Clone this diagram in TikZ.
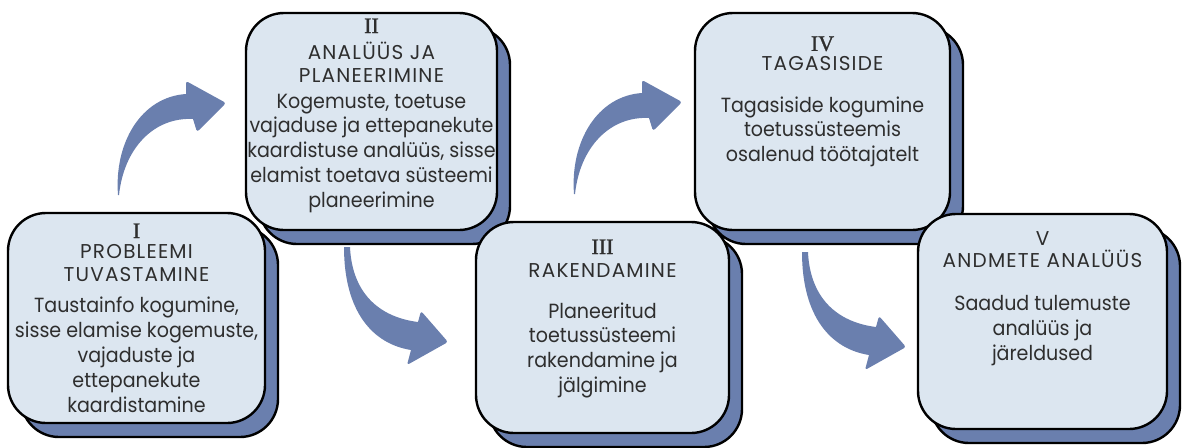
\documentclass[tikz,border=0pt]{standalone}
\usepackage{fontspec}
\setmainfont{Poppins}
\newfontfamily\bodyfont[FakeStretch=0.93]{Poppins}
\newfontfamily\titlefont[LetterSpace=6]{Poppins}
\newfontfamily\numfont[FakeBold=1.2]{Liberation Serif}
\usetikzlibrary{shadows,calc}
\definecolor{boxfill}{HTML}{DCE6F0}
\definecolor{shadowc}{HTML}{6A7FAE}
\definecolor{arrowc}{HTML}{6A7FAE}
\definecolor{txt}{HTML}{2E2E2E}
\tikzset{
  stagebox/.style={draw=black, line width=2.4pt, fill=boxfill, rounded corners=38pt,
    copy shadow={shadow xshift=13pt, shadow yshift=-14pt, fill=shadowc, draw=black, line width=2.4pt}},
  numtxt/.style={text=txt, font=\numfont\fontsize{22}{24}\selectfont, inner sep=0pt},
  titletxt/.style={text=txt, font=\titlefont\fontsize{20}{23.5}\selectfont, align=center, inner sep=0pt},
  bodytxt/.style={text=txt, font=\bodyfont\fontsize{20.5}{24.8}\selectfont, align=center, inner sep=0pt}
}
\begin{document}
\begin{tikzpicture}[x=1pt,y=-1pt]
\useasboundingbox (0,0) rectangle (1182,447);
% arrow tips
\coordinate (t1) at (226,103);
\coordinate (t2) at (448,342);
\coordinate (t3) at (682,102);
\coordinate (t4) at (906,347);
% up arrows
\foreach \t in {t1,t3}{
  \fill[arrowc] ($(\t)+(-108,92)$) .. controls ($(\t)+(-112,40)$) and ($(\t)+(-85,-6)$) .. ($(\t)+(-40,-9)$)
    [rounded corners=2.5pt] -- ($(\t)+(-40,-22)$) -- ($(\t)+(0,0)$) -- ($(\t)+(-29,29)$) [sharp corners] -- ($(\t)+(-33,16)$)
    .. controls ($(\t)+(-72,14)$) and ($(\t)+(-102,45)$) .. ($(\t)+(-107,92)$) -- cycle;
}
% down arrows
\foreach \t in {t2,t4}{
  \fill[arrowc] ($(\t)+(-104,-95)$) .. controls ($(\t)+(-104,-30)$) and ($(\t)+(-75,2)$) .. ($(\t)+(-37,8)$)
    [rounded corners=2.5pt] -- ($(\t)+(-41,23)$) -- ($(\t)+(0,0)$) -- ($(\t)+(-27,-31)$) [sharp corners] -- ($(\t)+(-30,-20)$)
    .. controls ($(\t)+(-70,-25)$) and ($(\t)+(-96,-50)$) .. ($(\t)+(-98,-95)$) -- cycle;
}
% top row boxes first
\node[stagebox, minimum width=251pt, minimum height=217pt] (b2) at (371.5,121.5) {};
\node[stagebox, minimum width=255pt, minimum height=217pt] (b4) at (822.5,121.5) {};
\node[stagebox, minimum width=257pt, minimum height=210pt] (b1) at (136.5,318) {};
\node[stagebox, minimum width=253pt, minimum height=211pt] (b3) at (602.5,327.5) {};
\node[stagebox, minimum width=249pt, minimum height=215pt] (b5) at (1042.5,321.5) {};
% texts box I
\node[numtxt] (n1) at ($(b1.north)+(0,19)$) {I};
\node[titletxt] (h1) at ($(b1.north)+(0,51)$) {PROBLEEMI\\TUVASTAMINE};
\node[bodytxt] (d1) at ($(b1.north)+(0,143)$) {Taustainfo kogumine,\\sisse elamise kogemuste,\\vajaduste ja\\ettepanekute\\kaardistamine};
% box II
\node[numtxt] (n2) at ($(b2.north)+(0,14)$) {II};
\node[titletxt] (h2) at ($(b2.north)+(0,50.5)$) {ANALÜÜS JA\\PLANEERIMINE};
\node[bodytxt] (d2) at ($(b2.north)+(0,141.5)$) {Kogemuste, toetuse\\vajaduse ja ettepanekute\\kaardistuse analüüs, sisse\\elamist toetava süsteemi\\planeerimine};
% box III
\node[numtxt] (n3) at ($(b3.north)+(0,26)$) {III};
\node[titletxt] (h3) at ($(b3.north)+(0,50)$) {RAKENDAMINE};
\node[bodytxt] (d3) at ($(b3.north)+(0,129.5)$) {Planeeritud\\toetussüsteemi\\rakendamine ja\\jälgimine};
% box IV
\node[numtxt] (n4) at ($(b4.north)+(0,32)$) {IV};
\node[titletxt] (h4) at ($(b4.north)+(0,52)$) {TAGASISIDE};
\node[bodytxt] (d4) at ($(b4.north)+(0,120)$) {Tagasiside kogumine\\toetussüsteemis\\osalenud töötajatelt};
% box V
\node[titletxt] (n5) at ($(b5.north)+(0,26)$) {V};
\node[titletxt] (h5) at ($(b5.north)+(0,46)$) {ANDMETE ANALÜÜS};
\node[bodytxt] (d5) at ($(b5.north)+(0,117.5)$) {Saadud tulemuste\\analüüs ja\\järeldused};
\end{tikzpicture}
\end{document}
